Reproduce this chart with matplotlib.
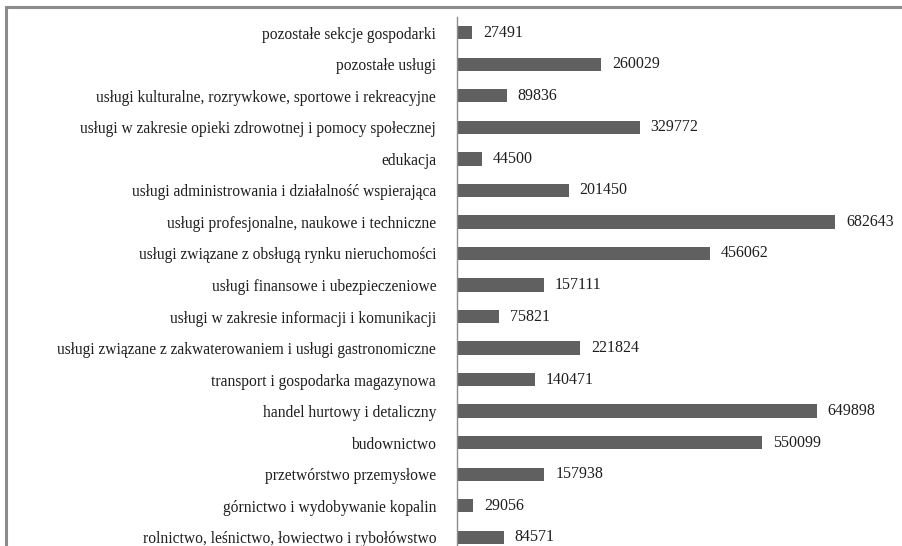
import numpy as np
import matplotlib.pyplot as plt
from matplotlib.patches import Rectangle

categories = [
    "pozostałe sekcje gospodarki",
    "pozostałe usługi",
    "usługi kulturalne, rozrywkowe, sportowe i rekreacyjne",
    "usługi w zakresie opieki zdrowotnej i pomocy społecznej",
    "edukacja",
    "usługi administrowania i działalność wspierająca",
    "usługi profesjonalne, naukowe i techniczne",
    "usługi związane z obsługą rynku nieruchomości",
    "usługi finansowe i ubezpieczeniowe",
    "usługi w zakresie informacji i komunikacji",
    "usługi związane z zakwaterowaniem i usługi gastronomiczne",
    "transport i gospodarka magazynowa",
    "handel hurtowy i detaliczny",
    "budownictwo",
    "przetwórstwo przemysłowe",
    "górnictwo i wydobywanie kopalin",
    "rolnictwo, leśnictwo, łowiectwo i rybołówstwo",
]
values = [27491, 260029, 89836, 329772, 44500, 201450, 682643, 456062,
          157111, 75821, 221824, 140471, 649898, 550099, 157938, 29056, 84571]

W, H = 903, 546
fig = plt.figure(figsize=(W / 100, H / 100), dpi=100)
plt.rcParams['font.family'] = ['Liberation Serif', 'DejaVu Serif']

# outer frame (only top and left edges are visible in the crop)
fig.patches.append(Rectangle((6 / W, -0.1), 1.2, (H - 7) / H + 0.1,
                             transform=fig.transFigure, fill=False,
                             edgecolor='#8c8c8c', linewidth=2.2))

# axes: left edge at x=457, top at y=17, bottom beyond the image
x0, x1 = 457, 890
top, bottom = 17, 553
ax = fig.add_axes([x0 / W, (H - bottom) / H, (x1 - x0) / W, (bottom - top) / H])

y = np.arange(len(categories))
ax.barh(y, values, height=0.42, color='#606060')
ax.set_ylim(len(categories) - 0.5, -0.5)
scale = 682643 / (835 - x0)
ax.set_xlim(0, (x1 - x0) * scale)

for yi, v in zip(y, values):
    ax.text(v + 11 * scale, yi, str(v), va='center', ha='left',
            fontsize=11.5, color='#1e1e1e')

ax.set_yticks(y)
ax.set_yticklabels(categories, fontsize=11.2, color='#1e1e1e')
ax.tick_params(axis='y', length=0, pad=15)
ax.set_xticks([])
for s in ['top', 'right', 'bottom']:
    ax.spines[s].set_visible(False)
ax.spines['left'].set_color('#8c8c8c')
ax.spines['left'].set_linewidth(1)

fig.savefig('out.png', dpi=100)
